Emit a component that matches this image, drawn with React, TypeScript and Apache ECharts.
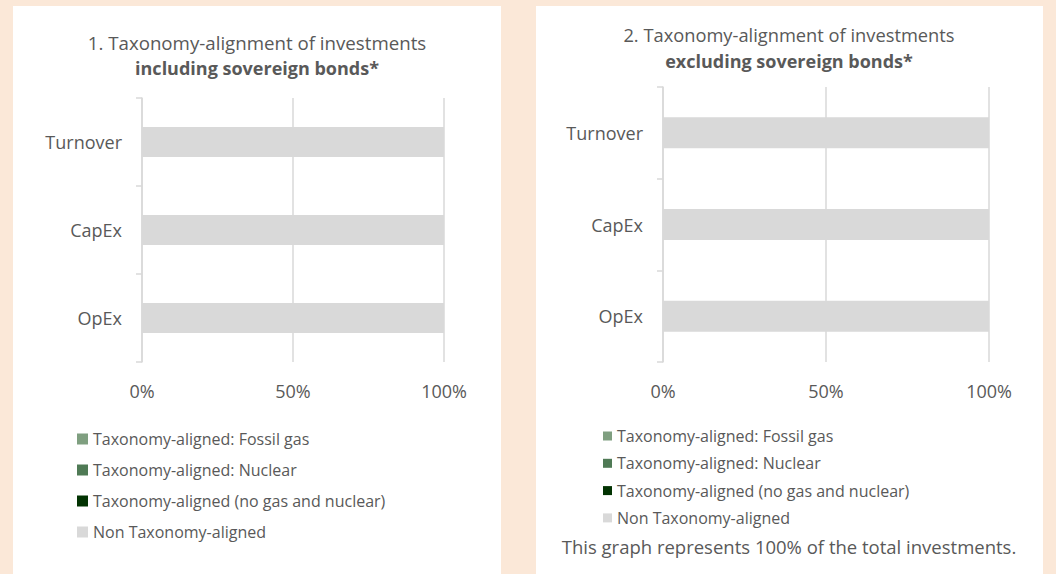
import React, { useEffect, useRef } from "react";
import * as echarts from "echarts";

const categories = ["Turnover", "CapEx", "OpEx"];
const xTicks = [0, 50, 100];

const seriesNames = [
  "Taxonomy-aligned: Fossil gas",
  "Taxonomy-aligned: Nuclear",
  "Taxonomy-aligned (no gas and nuclear)",
  "Non Taxonomy-aligned",
];
const seriesColors = ["#7F9F80", "#4F7A55", "#023302", "#D9D9D9"];

// 1. including sovereign bonds
const fossilGasIncl = [0, 0, 0];
const nuclearIncl = [0, 0, 0];
const alignedIncl = [0, 0, 0];
const nonAlignedIncl = [100, 100, 100];

// 2. excluding sovereign bonds
const fossilGasExcl = [0, 0, 0];
const nuclearExcl = [0, 0, 0];
const alignedExcl = [0, 0, 0];
const nonAlignedExcl = [100, 100, 100];

const title1 = "1. Taxonomy-alignment of investments";
const subtitle1 = "including sovereign bonds*";
const title2 = "2. Taxonomy-alignment of investments";
const subtitle2 = "excluding sovereign bonds*";
const footnote = "This graph represents 100% of the total investments.";

const FONT = "'Open Sans', sans-serif";
const TEXT = "#595959";
const GRID = "#D9D9D9";

export default function App() {
  const ref = useRef<HTMLDivElement>(null);
  useEffect(() => {
    if (!ref.current) return;
    const chart = echarts.init(ref.current, null, { renderer: "svg" });
    const inclData = [fossilGasIncl, nuclearIncl, alignedIncl, nonAlignedIncl];
    const exclData = [fossilGasExcl, nuclearExcl, alignedExcl, nonAlignedExcl];

    const xAxisCommon = {
      type: "value",
      min: xTicks[0],
      max: xTicks[xTicks.length - 1],
      interval: xTicks[1] - xTicks[0],
      axisLine: { show: false },
      axisTick: { show: false },
      splitLine: { show: true, lineStyle: { color: GRID, width: 1.5 } },
      axisLabel: {
        formatter: "{value}%",
        color: TEXT,
        fontSize: 18,
        fontFamily: FONT,
        margin: 20,
      },
    };
    const yAxisCommon = {
      type: "category",
      data: categories,
      inverse: true,
      axisLine: { show: true, lineStyle: { color: GRID, width: 1.5 } },
      axisTick: { show: true, length: 6, lineStyle: { color: GRID, width: 1.5 } },
      axisLabel: { color: TEXT, fontSize: 18, fontFamily: FONT, margin: 20 },
    };

    const series: any[] = [];
    seriesNames.forEach((name, i) => {
      series.push({
        name,
        type: "bar",
        stack: "incl",
        xAxisIndex: 0,
        yAxisIndex: 0,
        barWidth: 30,
        itemStyle: { color: seriesColors[i] },
        data: inclData[i],
      });
    });
    seriesNames.forEach((name, i) => {
      series.push({
        name,
        type: "bar",
        stack: "excl",
        xAxisIndex: 1,
        yAxisIndex: 1,
        barWidth: 31,
        itemStyle: { color: seriesColors[i] },
        data: exclData[i],
      });
    });

    const legendCommon = {
      orient: "vertical",
      icon: "rect",
      padding: 0,
      selectedMode: false,
      data: seriesNames,
      textStyle: { color: TEXT, fontSize: 16, fontFamily: FONT, lineHeight: 16 },
    };

    chart.setOption({
      animation: false,
      backgroundColor: "#FBE8D8",
      graphic: [
        { type: "rect", z: -10, shape: { x: 13, y: 6, width: 488, height: 580 }, style: { fill: "#FFFFFF" } },
        { type: "rect", z: -10, shape: { x: 536, y: 6, width: 507, height: 580 }, style: { fill: "#FFFFFF" } },
        { type: "text", x: 257, y: 42, style: { text: title1, fill: TEXT, font: `18.7px ${FONT}`, textAlign: "center", textVerticalAlign: "middle" } },
        { type: "text", x: 257, y: 68, style: { text: subtitle1, fill: TEXT, font: `bold 18px ${FONT}`, textAlign: "center", textVerticalAlign: "middle" } },
        { type: "text", x: 789, y: 34, style: { text: title2, fill: TEXT, font: `18.3px ${FONT}`, textAlign: "center", textVerticalAlign: "middle" } },
        { type: "text", x: 789, y: 61, style: { text: subtitle2, fill: TEXT, font: `bold 18px ${FONT}`, textAlign: "center", textVerticalAlign: "middle" } },
        { type: "text", x: 789, y: 546, style: { text: footnote, fill: TEXT, font: `18.5px ${FONT}`, textAlign: "center", textVerticalAlign: "middle" } },
      ],
      grid: [
        { left: 142, top: 98, width: 302, height: 264, containLabel: false },
        { left: 663, top: 87, width: 326, height: 275, containLabel: false },
      ],
      xAxis: [
        { ...xAxisCommon, gridIndex: 0 },
        { ...xAxisCommon, gridIndex: 1 },
      ],
      yAxis: [
        { ...yAxisCommon, gridIndex: 0 },
        { ...yAxisCommon, gridIndex: 1 },
      ],
      legend: [
        { ...legendCommon, left: 77, top: 431, itemWidth: 11, itemHeight: 11, itemGap: 15 },
        { ...legendCommon, left: 603, top: 428, itemWidth: 9, itemHeight: 9, itemGap: 11.3 },
      ],
      series,
    });
    return () => chart.dispose();
  }, []);
  return (
    <div
      ref={ref}
      style={{ position: "absolute", left: 0, top: 0, width: 1056, height: 574 }}
    />
  );
}
